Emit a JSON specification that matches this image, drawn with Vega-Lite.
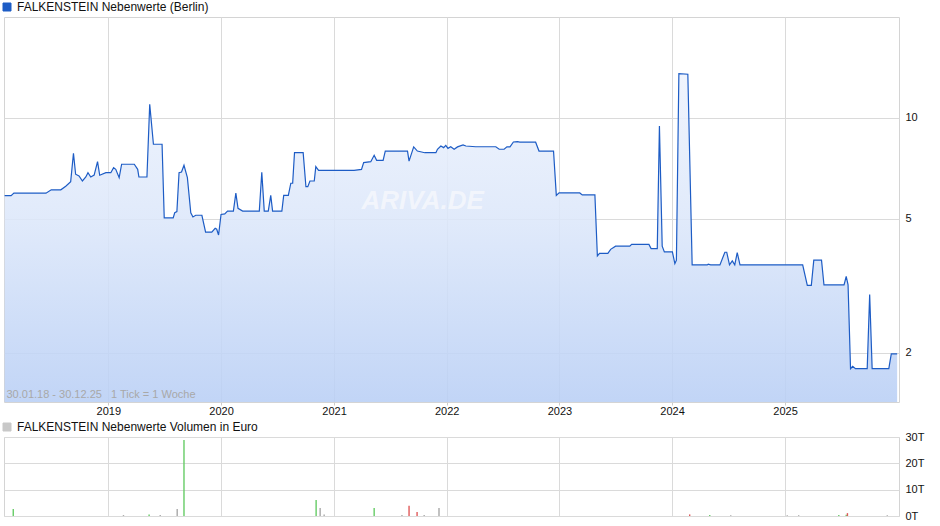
{
  "$schema": "https://vega.github.io/schema/vega-lite/v6.json",
  "background": "white",
  "padding": {"left": 0, "top": 0, "right": 5, "bottom": 5},
  "spacing": 3,
  "config": {
    "font": "Liberation Sans",
    "view": {"stroke": "#d4d4d4"},
    "axis": {"gridColor": "#dadada", "labelFont": "Liberation Sans", "labelFontSize": 11, "labelColor": "#111", "domain": false, "title": null},
    "legend": {"labelFont": "Liberation Sans", "labelFontSize": 12, "labelColor": "#111", "labelLimit": 500}
  },
  "resolve": {"scale": {"color": "independent", "x": "independent", "y": "independent"}, "legend": {"color": "independent"}},
  "datasets": {
    "price": [
      {"d": "2018-01-30", "v": 5.87}, {"d": "2018-02-20", "v": 5.87}, {"d": "2018-03-01", "v": 5.97}, {"d": "2018-06-13", "v": 5.97},
      {"d": "2018-06-30", "v": 6.11}, {"d": "2018-07-31", "v": 6.11}, {"d": "2018-08-16", "v": 6.26}, {"d": "2018-09-01", "v": 6.46},
      {"d": "2018-09-10", "v": 7.85}, {"d": "2018-09-17", "v": 6.80}, {"d": "2018-09-28", "v": 6.72}, {"d": "2018-10-09", "v": 6.49},
      {"d": "2018-10-20", "v": 6.67}, {"d": "2018-10-27", "v": 6.87}, {"d": "2018-11-05", "v": 6.67}, {"d": "2018-11-16", "v": 6.76},
      {"d": "2018-11-27", "v": 7.41}, {"d": "2018-12-04", "v": 6.75}, {"d": "2018-12-24", "v": 6.87}, {"d": "2019-01-09", "v": 6.87},
      {"d": "2019-01-18", "v": 7.11}, {"d": "2019-01-25", "v": 7.03}, {"d": "2019-02-05", "v": 6.64}, {"d": "2019-02-13", "v": 7.28},
      {"d": "2019-03-26", "v": 7.28}, {"d": "2019-04-06", "v": 7.03}, {"d": "2019-04-10", "v": 6.67}, {"d": "2019-05-06", "v": 6.67},
      {"d": "2019-05-15", "v": 10.98}, {"d": "2019-05-27", "v": 8.35}, {"d": "2019-06-24", "v": 8.35}, {"d": "2019-07-01", "v": 5.04},
      {"d": "2019-07-30", "v": 5.04}, {"d": "2019-08-04", "v": 5.22}, {"d": "2019-08-11", "v": 5.26}, {"d": "2019-08-18", "v": 6.87},
      {"d": "2019-08-26", "v": 6.90}, {"d": "2019-09-03", "v": 7.23}, {"d": "2019-09-14", "v": 6.64}, {"d": "2019-09-25", "v": 5.22},
      {"d": "2019-10-02", "v": 5.07}, {"d": "2019-10-11", "v": 5.13}, {"d": "2019-10-31", "v": 5.13}, {"d": "2019-11-12", "v": 4.57},
      {"d": "2019-12-02", "v": 4.57}, {"d": "2019-12-13", "v": 4.69}, {"d": "2019-12-18", "v": 4.66}, {"d": "2019-12-24", "v": 4.48},
      {"d": "2020-01-01", "v": 5.16}, {"d": "2020-01-13", "v": 5.18}, {"d": "2020-01-22", "v": 5.28}, {"d": "2020-02-10", "v": 5.28},
      {"d": "2020-02-18", "v": 5.97}, {"d": "2020-02-25", "v": 5.38}, {"d": "2020-03-11", "v": 5.28}, {"d": "2020-05-04", "v": 5.28},
      {"d": "2020-05-12", "v": 6.89}, {"d": "2020-05-20", "v": 5.28}, {"d": "2020-06-02", "v": 5.28}, {"d": "2020-06-10", "v": 5.88},
      {"d": "2020-06-16", "v": 5.28}, {"d": "2020-07-16", "v": 5.28}, {"d": "2020-07-22", "v": 5.88}, {"d": "2020-08-06", "v": 5.88},
      {"d": "2020-08-14", "v": 6.39}, {"d": "2020-08-20", "v": 6.39}, {"d": "2020-08-26", "v": 7.88}, {"d": "2020-09-23", "v": 7.88},
      {"d": "2020-10-02", "v": 6.24}, {"d": "2020-10-08", "v": 6.24}, {"d": "2020-10-15", "v": 6.49}, {"d": "2020-10-29", "v": 6.49},
      {"d": "2020-11-03", "v": 7.16}, {"d": "2020-11-12", "v": 6.98}, {"d": "2021-03-07", "v": 6.98}, {"d": "2021-03-31", "v": 7.03},
      {"d": "2021-04-07", "v": 7.36}, {"d": "2021-04-30", "v": 7.41}, {"d": "2021-05-11", "v": 7.74}, {"d": "2021-05-19", "v": 7.48},
      {"d": "2021-06-09", "v": 7.48}, {"d": "2021-06-16", "v": 7.97}, {"d": "2021-08-27", "v": 7.97}, {"d": "2021-09-01", "v": 7.44},
      {"d": "2021-09-16", "v": 8.20}, {"d": "2021-09-28", "v": 7.97}, {"d": "2021-10-22", "v": 7.88}, {"d": "2021-11-27", "v": 7.88},
      {"d": "2021-12-02", "v": 8.07}, {"d": "2021-12-13", "v": 8.25}, {"d": "2021-12-22", "v": 8.16}, {"d": "2021-12-29", "v": 8.29},
      {"d": "2022-01-05", "v": 8.12}, {"d": "2022-01-14", "v": 8.21}, {"d": "2022-01-25", "v": 8.07}, {"d": "2022-02-05", "v": 8.20},
      {"d": "2022-02-23", "v": 8.31}, {"d": "2022-03-04", "v": 8.25}, {"d": "2022-04-05", "v": 8.21}, {"d": "2022-06-09", "v": 8.21},
      {"d": "2022-06-20", "v": 8.07}, {"d": "2022-07-06", "v": 8.07}, {"d": "2022-07-15", "v": 8.20}, {"d": "2022-07-25", "v": 8.20},
      {"d": "2022-08-05", "v": 8.48}, {"d": "2022-08-18", "v": 8.50}, {"d": "2022-08-26", "v": 8.47}, {"d": "2022-10-16", "v": 8.47},
      {"d": "2022-10-27", "v": 7.97}, {"d": "2022-12-13", "v": 7.97}, {"d": "2022-12-22", "v": 5.88}, {"d": "2022-12-31", "v": 5.98},
      {"d": "2023-03-08", "v": 5.98}, {"d": "2023-03-16", "v": 5.90}, {"d": "2023-04-26", "v": 5.90}, {"d": "2023-05-04", "v": 3.88},
      {"d": "2023-05-11", "v": 3.95}, {"d": "2023-06-07", "v": 3.95}, {"d": "2023-06-16", "v": 4.06}, {"d": "2023-07-02", "v": 4.15},
      {"d": "2023-08-17", "v": 4.15}, {"d": "2023-08-23", "v": 4.20}, {"d": "2023-10-18", "v": 4.20}, {"d": "2023-10-25", "v": 4.08},
      {"d": "2023-11-14", "v": 4.08}, {"d": "2023-11-21", "v": 9.47}, {"d": "2023-11-30", "v": 4.15}, {"d": "2023-12-07", "v": 3.99},
      {"d": "2024-01-02", "v": 3.99}, {"d": "2024-01-10", "v": 3.68}, {"d": "2024-01-15", "v": 3.77}, {"d": "2024-01-23", "v": 13.55},
      {"d": "2024-02-21", "v": 13.50}, {"d": "2024-03-06", "v": 3.65}, {"d": "2024-04-24", "v": 3.65}, {"d": "2024-04-27", "v": 3.67},
      {"d": "2024-05-05", "v": 3.65}, {"d": "2024-06-04", "v": 3.65}, {"d": "2024-06-20", "v": 3.98}, {"d": "2024-06-26", "v": 3.98},
      {"d": "2024-07-05", "v": 3.65}, {"d": "2024-07-14", "v": 3.75}, {"d": "2024-07-22", "v": 3.65}, {"d": "2024-07-30", "v": 3.97},
      {"d": "2024-08-08", "v": 3.65}, {"d": "2025-02-27", "v": 3.65}, {"d": "2025-03-14", "v": 3.17}, {"d": "2025-03-27", "v": 3.17},
      {"d": "2025-04-04", "v": 3.77}, {"d": "2025-04-29", "v": 3.77}, {"d": "2025-05-07", "v": 3.18}, {"d": "2025-07-11", "v": 3.18},
      {"d": "2025-07-18", "v": 3.37}, {"d": "2025-07-24", "v": 3.18}, {"d": "2025-08-01", "v": 1.79}, {"d": "2025-08-08", "v": 1.82},
      {"d": "2025-08-17", "v": 1.79}, {"d": "2025-09-24", "v": 1.79}, {"d": "2025-10-02", "v": 2.98}, {"d": "2025-10-10", "v": 1.79},
      {"d": "2025-12-03", "v": 1.79}, {"d": "2025-12-11", "v": 1.98}, {"d": "2025-12-30", "v": 1.98}
    ],
    "volume": [
      {"d": "2018-02-27", "vol": 2700, "dir": "up"},
      {"d": "2019-02-19", "vol": 350, "dir": "flat"},
      {"d": "2019-05-13", "vol": 550, "dir": "up"},
      {"d": "2019-06-18", "vol": 350, "dir": "flat"},
      {"d": "2019-08-12", "vol": 2700, "dir": "flat"},
      {"d": "2019-09-03", "vol": 28900, "dir": "up"},
      {"d": "2020-11-04", "vol": 6100, "dir": "up"},
      {"d": "2020-11-17", "vol": 3000, "dir": "flat"},
      {"d": "2020-11-30", "vol": 550, "dir": "flat"},
      {"d": "2021-05-11", "vol": 3000, "dir": "up"},
      {"d": "2021-08-09", "vol": 350, "dir": "flat"},
      {"d": "2021-09-01", "vol": 3900, "dir": "down"},
      {"d": "2021-09-27", "vol": 1500, "dir": "down"},
      {"d": "2021-10-20", "vol": 350, "dir": "flat"},
      {"d": "2021-12-07", "vol": 3000, "dir": "flat"},
      {"d": "2024-02-27", "vol": 600, "dir": "down"},
      {"d": "2024-05-02", "vol": 350, "dir": "up"},
      {"d": "2024-07-09", "vol": 300, "dir": "flat"},
      {"d": "2025-01-08", "vol": 300, "dir": "flat"},
      {"d": "2025-02-14", "vol": 300, "dir": "flat"},
      {"d": "2025-06-24", "vol": 350, "dir": "up"},
      {"d": "2025-07-18", "vol": 500, "dir": "up"},
      {"d": "2025-07-22", "vol": 1100, "dir": "down"},
      {"d": "2025-11-28", "vol": 300, "dir": "flat"}
    ],
    "note": [{"d": "2018-02-05", "v": 1.49, "label": "30.01.18 - 30.12.25\u00a0\u00a0\u00a01 Tick = 1 Woche"}],
    "mark": [{"d": "2021-10-15", "v": 5.65, "label": "ARIVA.DE"}]
  },
  "vconcat": [
    {
      "width": 895,
      "height": 385,
      "encoding": {
        "x": {
          "field": "d", "type": "temporal",
          "scale": {"type": "utc", "domain": [{"year": 2018, "month": 1, "date": 28, "utc": true}, {"year": 2026, "month": 1, "date": 5, "utc": true}]},
          "axis": {
            "values": [{"year": 2019, "utc": true}, {"year": 2020, "utc": true}, {"year": 2021, "utc": true}, {"year": 2022, "utc": true}, {"year": 2023, "utc": true}, {"year": 2024, "utc": true}, {"year": 2025, "utc": true}],
            "format": "%Y", "formatType": "utc", "grid": true, "ticks": true, "tickSize": 3, "tickColor": "#cccccc", "labelPadding": 0, "labelFontSize": 11
          }
        },
        "y": {
          "field": "v", "type": "quantitative",
          "scale": {"type": "log", "domain": [1.424, 20], "nice": false, "zero": false},
          "axis": {"orient": "right", "values": [2, 5, 10], "grid": true, "ticks": false, "labelPadding": 6, "labelFontSize": 11}
        }
      },
      "layer": [
        {
          "data": {"name": "price"},
          "mark": {"type": "area", "interpolate": "linear", "fillOpacity": 0.88,
            "color": {"gradient": "linear", "x1": 0, "y1": 0, "x2": 0, "y2": 1, "stops": [{"offset": 0, "color": "#eef3fd"}, {"offset": 0.45, "color": "#dce7fa"}, {"offset": 1, "color": "#b9cff5"}]}},
          "encoding": {"y2": {"datum": 1.424}}
        },
        {
          "data": {"name": "mark"},
          "mark": {"type": "text", "fontSize": 26, "fontWeight": "bold", "fontStyle": "italic", "color": "#f4f7fd", "opacity": 0.9},
          "encoding": {"text": {"field": "label"}}
        },
        {
          "data": {"name": "price"},
          "mark": {"type": "line", "strokeWidth": 1.2, "interpolate": "linear"},
          "encoding": {
            "color": {
              "datum": "FALKENSTEIN Nebenwerte (Berlin)",
              "scale": {"range": ["#1d5cc5"]},
              "legend": {
                "orient": "none", "legendX": -3, "legendY": -16, "title": null, "symbolType": "square", "symbolSize": 64,
                "labelFontSize": 12, "labelOffset": 4,
                "encode": {"symbols": {"update": {"fill": {"value": "#1d5cc5"}, "stroke": {"value": "#222222"}, "strokeWidth": {"value": 1}}}}
              }
            }
          }
        },
        {
          "data": {"name": "note"},
          "mark": {"type": "text", "align": "left", "baseline": "middle", "fontSize": 11, "color": "#a8a8a8"},
          "encoding": {"text": {"field": "label"}}
        }
      ]
    },
    {
      "width": 895,
      "height": 79,
      "data": {"name": "volume"},
      "mark": {"type": "rule", "strokeWidth": 1.4},
      "encoding": {
        "x": {
          "field": "d", "type": "temporal",
          "scale": {"type": "utc", "domain": [{"year": 2018, "month": 1, "date": 28, "utc": true}, {"year": 2026, "month": 1, "date": 5, "utc": true}]},
          "axis": {
            "values": [{"year": 2019, "utc": true}, {"year": 2020, "utc": true}, {"year": 2021, "utc": true}, {"year": 2022, "utc": true}, {"year": 2023, "utc": true}, {"year": 2024, "utc": true}, {"year": 2025, "utc": true}],
            "grid": true, "labels": false, "ticks": false
          }
        },
        "y": {
          "field": "vol", "type": "quantitative",
          "scale": {"domain": [0, 30000], "nice": false},
          "axis": {"orient": "right", "values": [0, 10000, 20000, 30000], "labelExpr": "datum.value / 1000 + 'T'", "grid": true, "ticks": false, "labelPadding": 6, "labelFontSize": 11}
        },
        "y2": {"datum": 0},
        "color": {
          "field": "dir", "type": "nominal",
          "scale": {"domain": ["FALKENSTEIN Nebenwerte Volumen in Euro", "up", "down", "flat"], "range": ["#c8c8c8", "#66cc66", "#e05a5a", "#a8a8a8"]},
          "legend": {
            "values": ["FALKENSTEIN Nebenwerte Volumen in Euro"],
            "orient": "none", "legendX": -3, "legendY": -16, "title": null, "symbolType": "square", "symbolSize": 64,
            "labelFontSize": 12, "labelOffset": 4,
            "encode": {"symbols": {"update": {"fill": {"value": "#c8c8c8"}, "stroke": {"value": "#222222"}, "strokeWidth": {"value": 1}}}}
          }
        }
      }
    }
  ]
}
